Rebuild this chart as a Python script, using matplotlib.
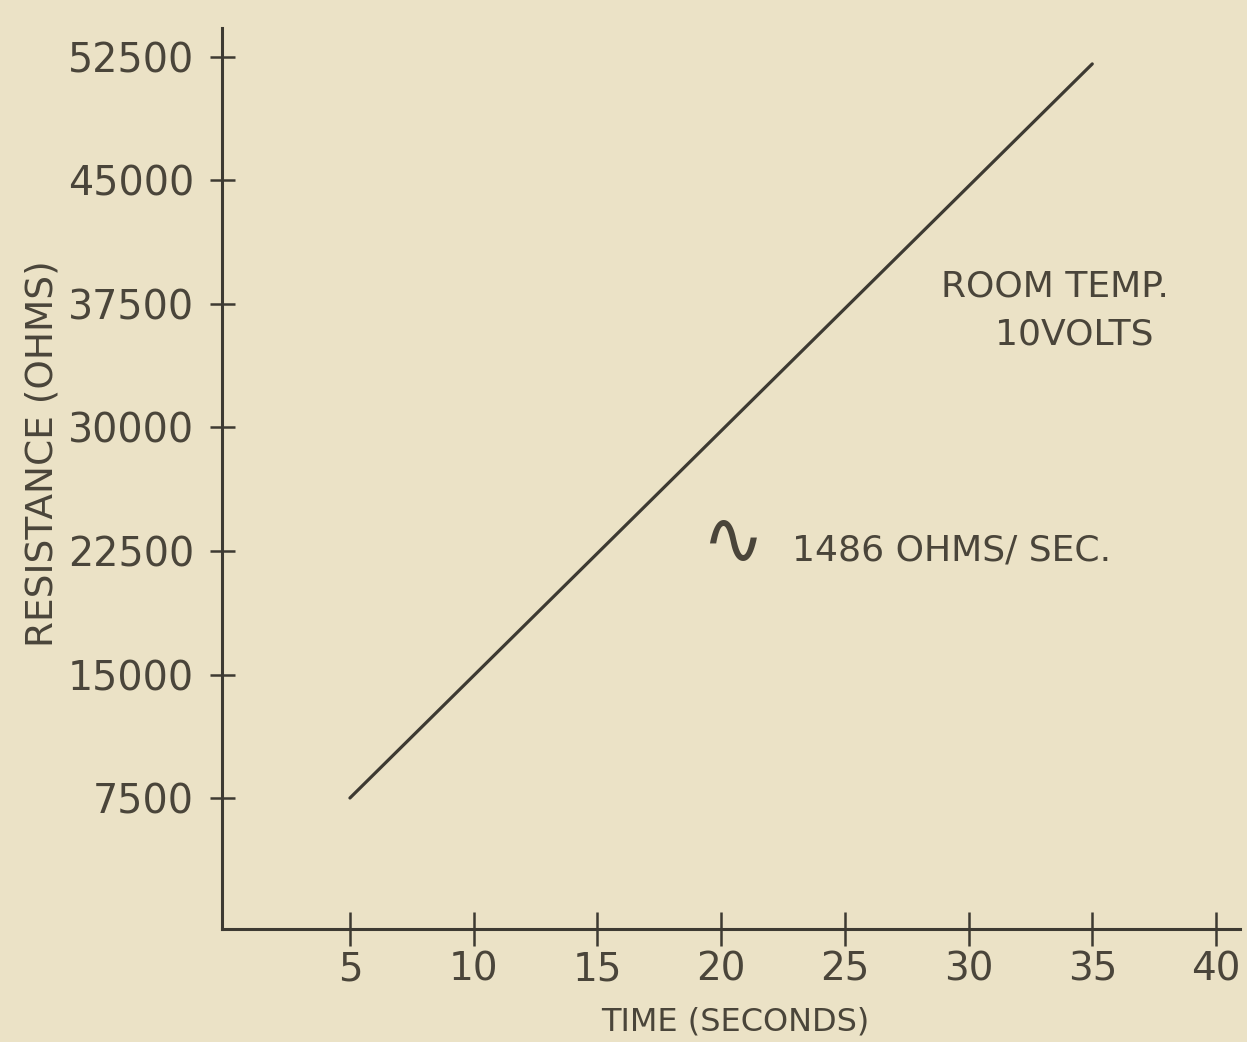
import numpy as np
import matplotlib
matplotlib.use("Agg")
import matplotlib.pyplot as plt

# Resistance vs. time at room temperature, 10 volts
time_s = [5, 35]
slope_ohms_per_s = 1486
start_ohms = 7500
resistance = [start_ohms + slope_ohms_per_s * (t - time_s[0]) for t in time_s]

x_ticks = [5, 10, 15, 20, 25, 30, 35, 40]
y_ticks = [7500, 15000, 22500, 30000, 37500, 45000, 52500]

bg = "#ebe2c6"
ink = "#4a453a"
line_ink = "#3d3a32"

fig = plt.figure(figsize=(12.47, 10.42), dpi=100, facecolor=bg)
ax = fig.add_axes([222 / 1247, 113 / 1042, 1018 / 1247, 901 / 1042])
ax.set_facecolor(bg)

ax.plot(time_s, resistance, color=line_ink, lw=2.3, solid_capstyle="round")

ax.set_xlim(-0.17, 40.97)
ax.set_ylim(-455, 54260)

for side in ("top", "right"):
    ax.spines[side].set_visible(False)
for side in ("left", "bottom"):
    ax.spines[side].set_color(line_ink)
    ax.spines[side].set_linewidth(2.2)

ax.set_xticks(x_ticks)
ax.set_yticks(y_ticks)
ax.set_xticklabels([str(v) for v in x_ticks])
ax.set_yticklabels([str(v) for v in y_ticks])
ax.tick_params(axis="x", direction="inout", length=25, width=1.8, color=line_ink,
               labelsize=28, labelcolor=ink, pad=3)
ax.tick_params(axis="y", direction="inout", length=18, width=1.8, color=line_ink,
               labelsize=28.5, labelcolor=ink, pad=11)

ax.set_ylabel("RESISTANCE (OHMS)", fontsize=27, color=ink)
ax.yaxis.set_label_coords(-0.159, 0.528)
ax.set_xlabel("TIME (SECONDS)", fontsize=23, color=ink)
ax.xaxis.set_label_coords(0.504, -0.0865)

ax.text(28.9, 37925, "ROOM TEMP.", fontsize=26, color=ink, ha="left", va="baseline")
ax.text(31.05, 35010, "10VOLTS", fontsize=26, color=ink, ha="left", va="baseline")
ax.text(20.46, 23000, "\u223F", fontsize=54, color=ink, ha="center", va="center")
ax.text(22.88, 21953, f"{slope_ohms_per_s} OHMS/ SEC.", fontsize=26, color=ink,
        ha="left", va="baseline")

fig.savefig("out.png", dpi=100, facecolor=bg)
